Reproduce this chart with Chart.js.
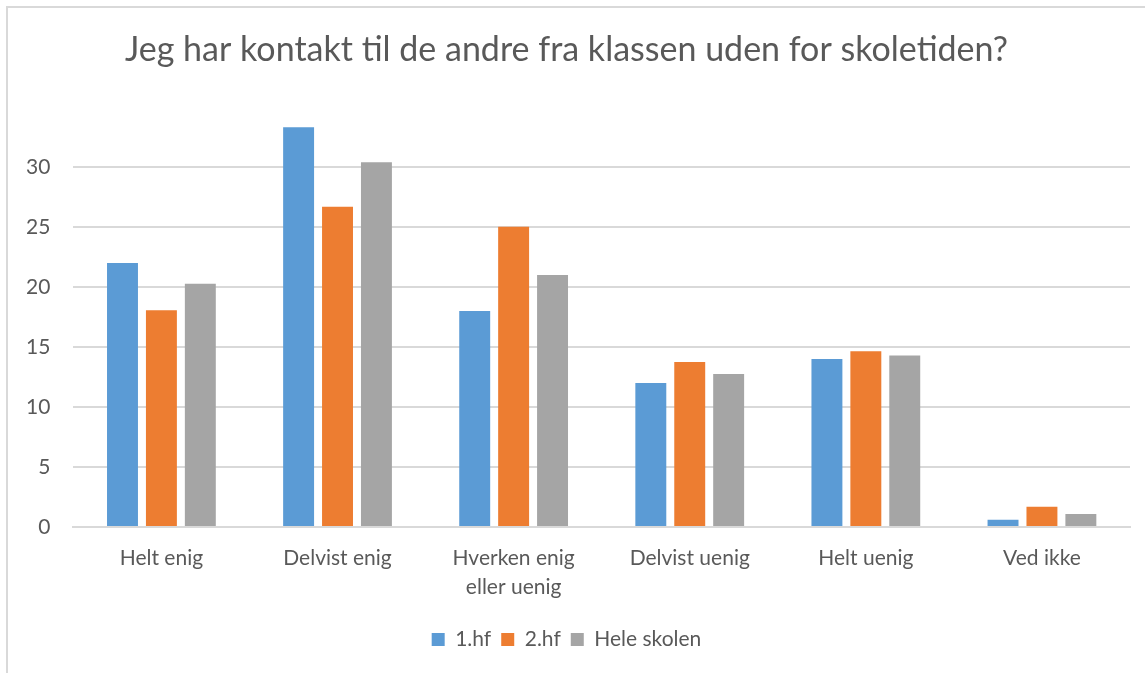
<!DOCTYPE html>
<html>
<head>
<meta charset="utf-8">
<script src="https://cdn.jsdelivr.net/npm/chart.js@4"></script>
<style>
  html, body { margin: 0; padding: 0; background: #fff; }
  #wrap { position: relative; width: 1145px; height: 673px; }
  #frame { position: absolute; left: 6px; top: 6px; width: 1200px; height: 700px;
           border-left: 2px solid #d9d9d9; border-top: 2px solid #d9d9d9; }
  canvas { position: absolute; left: 0; top: 0; }
</style>
</head>
<body>
<div id="wrap">
  <div id="frame"></div>
  <canvas id="chart" width="1145" height="673"></canvas>
</div>
<script>
const categories = ['Helt enig', 'Delvist enig', ['Hverken enig', 'eller uenig'], 'Delvist uenig', 'Helt uenig', 'Ved ikke'];
const hf1 = [22, 33.3, 18, 12, 14, 0.6];
const hf2 = [18.05, 26.67, 25, 13.75, 14.64, 1.69];
const heleSkolen = [20.27, 30.39, 21.0, 12.75, 14.28, 1.08];

const FONT = 'Lato, "Open Sans", sans-serif';
const TEXT = '#595959';

Chart.defaults.font.family = FONT;
Chart.defaults.color = TEXT;

new Chart(document.getElementById('chart').getContext('2d'), {
    type: 'bar',
    data: {
        labels: categories,
        datasets: [
            { label: '1.hf', data: hf1, backgroundColor: '#5B9BD5' },
            { label: '2.hf', data: hf2, backgroundColor: '#ED7D31' },
            { label: 'Hele skolen', data: heleSkolen, backgroundColor: '#A5A5A5' }
        ]
    },
    options: {
        responsive: false,
        animation: false,
        categoryPercentage: 0.663,
        barPercentage: 0.795,
        layout: { padding: { left: 3, right: 15, top: 0, bottom: 13 } },
        plugins: {
            title: {
                display: true,
                text: 'Jeg har kontakt til de andre fra klassen uden for skoletiden?',
                color: TEXT,
                font: { family: FONT, size: 34, weight: '400' },
                padding: { top: 30, bottom: 36 }
            },
            legend: {
                position: 'bottom',
                labels: { boxWidth: 13, boxHeight: 13, padding: 10, color: TEXT, font: { size: 21 } }
            },
            tooltip: { enabled: false }
        },
        scales: {
            x: {
                grid: { display: false, drawTicks: false },
                border: { color: '#d9d9d9', width: 2 },
                ticks: { color: TEXT, font: { size: 21, lineHeight: 1.38 }, padding: 17, maxRotation: 0 }
            },
            y: {
                min: 0,
                max: 35,
                afterBuildTicks: (scale) => {
                    scale.ticks = scale.ticks.filter(t => t.value <= 30);
                },
                grid: { color: '#d9d9d9', lineWidth: 2, drawTicks: false },
                border: { display: false },
                ticks: { stepSize: 5, color: TEXT, font: { size: 21 }, padding: 23 }
            }
        }
    }
});
</script>
</body>
</html>
